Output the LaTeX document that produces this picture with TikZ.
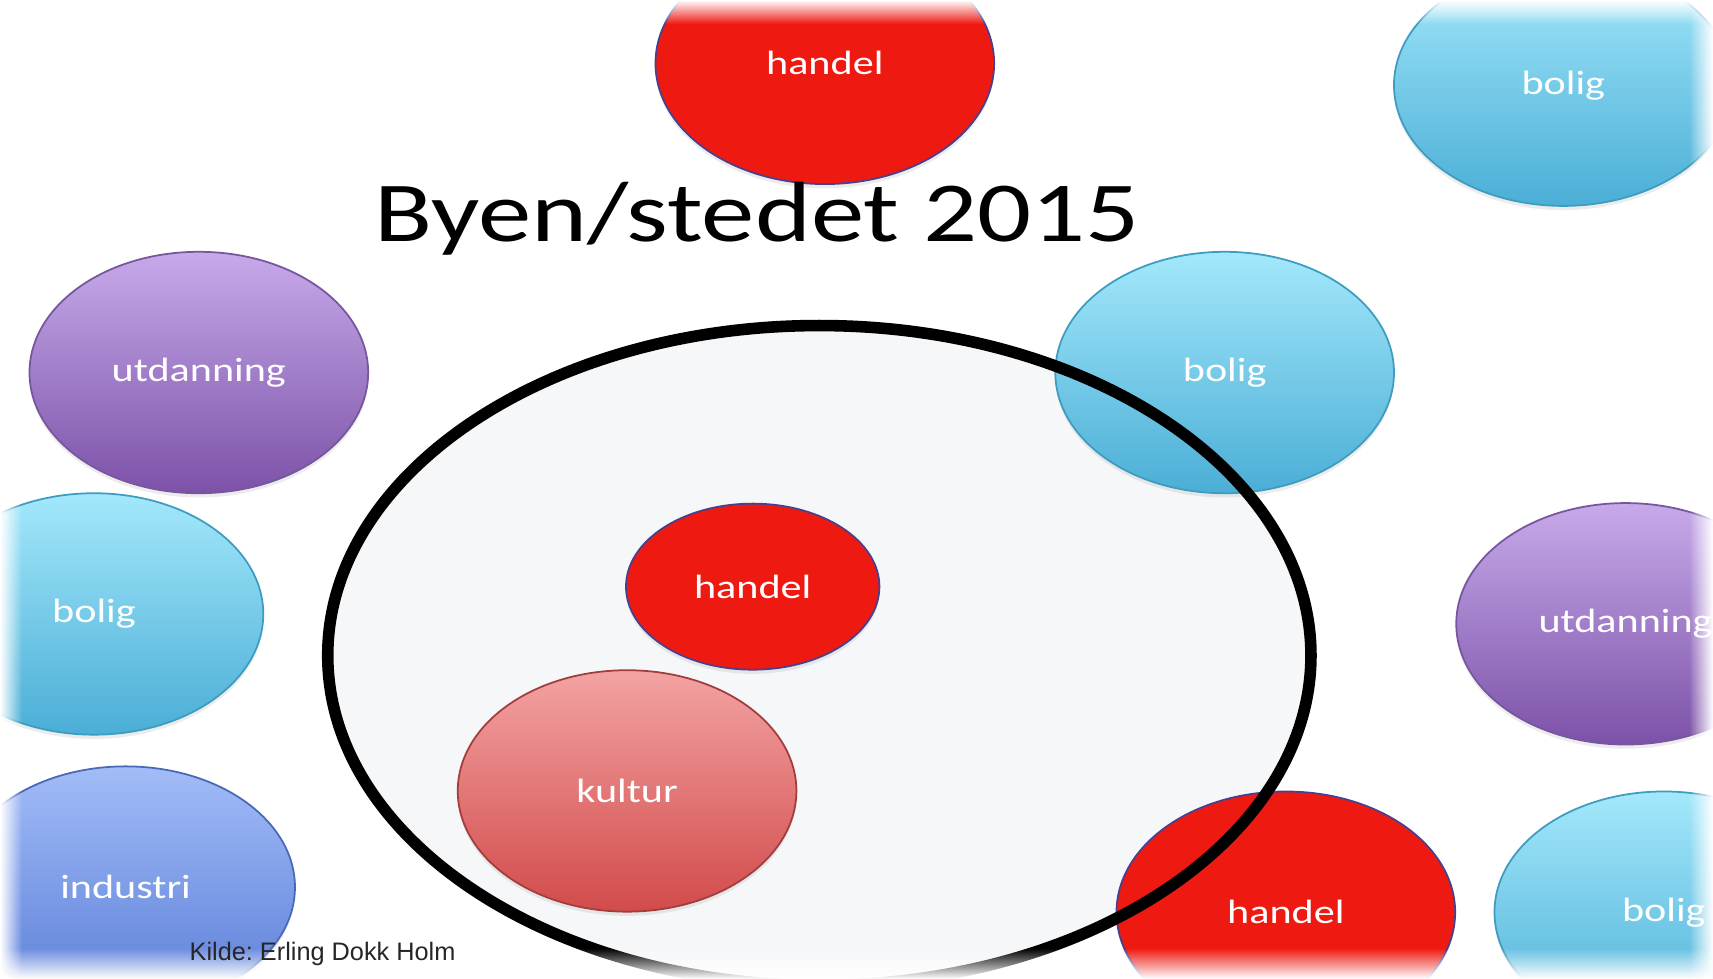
\documentclass[tikz,border=0pt]{standalone}
\usepackage{fontspec}
\setmainfont{Carlito}[FakeStretch=1.25]
\newfontfamily\kildefont{Liberation Sans}
\usetikzlibrary{shapes.geometric,shadows,fadings}
\frenchspacing

\newcommand\px{0.10925mm}
\definecolor{handelred}{HTML}{EE1A12}
\definecolor{handeledge}{HTML}{4A3F8C}
\definecolor{boligtop}{HTML}{A3E8FB}
\definecolor{boligbot}{HTML}{4BAED6}
\definecolor{boligedge}{HTML}{3E9CC0}
\definecolor{utdtop}{HTML}{C7AAEA}
\definecolor{utdbot}{HTML}{7C52A8}
\definecolor{utdedge}{HTML}{76569E}
\definecolor{indtop}{HTML}{A2BCF7}
\definecolor{indbot}{HTML}{5A7ED8}
\definecolor{indedge}{HTML}{4A68B8}
\definecolor{kulturtop}{HTML}{F3A3A3}
\definecolor{kulturbot}{HTML}{D24B4B}
\definecolor{kulturedge}{HTML}{A33C3C}
\definecolor{ringfill}{HTML}{F6F7F9}

\begin{document}
\begin{tikzpicture}[x=\px,y=-\px,
  blob/.style={ellipse,inner sep=0pt,line width=0.5pt,text=white,
    font=\fontsize{9.6}{11}\selectfont,
    minimum width=310*\px,minimum height=221*\px,
    drop shadow={opacity=0.15,shadow xshift=0pt,shadow yshift=-1.2pt}},
  handel/.style={blob,fill=handelred,draw=handeledge},
  bolig/.style={blob,top color=boligtop,bottom color=boligbot,draw=boligedge},
  utdanning/.style={blob,top color=utdtop,bottom color=utdbot,draw=utdedge},
  industri/.style={blob,top color=indtop,bottom color=indbot,draw=indedge},
  kultur/.style={blob,top color=kulturtop,bottom color=kulturbot,draw=kulturedge},
  byen/.style={ellipse,inner sep=0pt,minimum width=900*\px,minimum height=604*\px}]

\useasboundingbox (0,0) rectangle (1568,896);
\clip (0,0) rectangle (1568,896);
\fill[white] (0,0) rectangle (1568,896);

\node[byen,fill=ringfill] (byen) at (750,600) {};

\node[handel] (handel1) at (755,58) {handel};
\node[bolig] (bolig1) at (1431,78) {bolig};
\node[utdanning] (utd1) at (182,341) {utdanning};
\node[bolig] (bolig2) at (1121,341) {bolig};
\node[bolig] (bolig3) at (86,562) {bolig};
\node[handel,minimum width=232*\px,minimum height=152*\px] (handel2) at (689,537) {handel};
\node[kultur] (kultur) at (574,724) {kultur};
\node[utdanning] (utd2) at (1488,571) {utdanning};
\node[industri] (industri) at (115,812) {industri};
\node[handel] (handel3) at (1177,835) {handel};
\node[bolig] (bolig4) at (1523,835) {bolig};

\node[byen,draw=black,line width=3.3pt] (ring) at (byen) {};

\node[anchor=base,font=\fontsize{24.3}{28}\selectfont] (title) at (693,221) {Byen/stedet 2015};

\fill[white,path fading=south] (0,0) rectangle (1568,22);
\fill[white,path fading=north] (0,868) rectangle (1568,896);
\fill[white,path fading=east] (0,0) rectangle (20,896);
\fill[white,path fading=west] (1546,0) rectangle (1568,896);

\node[anchor=base west,inner sep=0pt,text=black!85,
  font=\kildefont\fontsize{7.2}{9}\selectfont] (kilde) at (173,879) {Kilde: Erling Dokk Holm};

\end{tikzpicture}
\end{document}
